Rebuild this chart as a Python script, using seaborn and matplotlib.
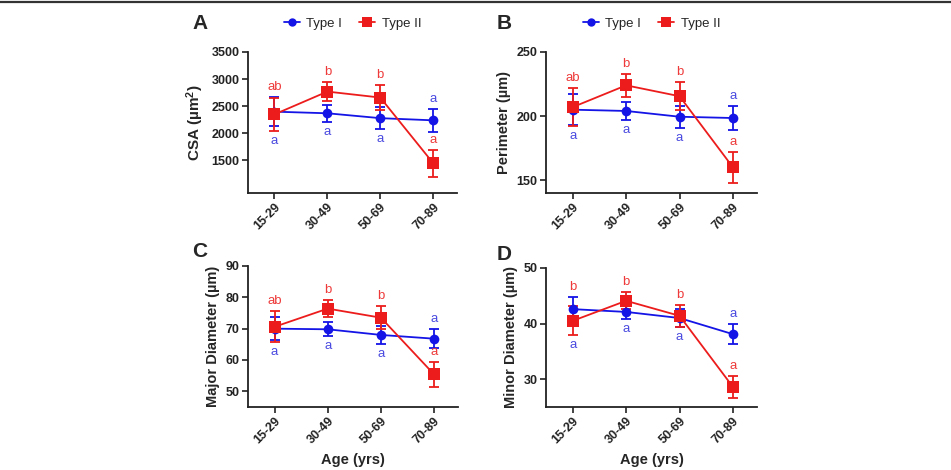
import numpy as np
import pandas as pd
import seaborn as sns
import matplotlib.pyplot as plt
from matplotlib.lines import Line2D

# Age groups and group labels
ages = ['15-29', '30-49', '50-69', '70-89']
types = ['Type I', 'Type II']

# Panel A - CSA (um^2), mean and error
csa_I = [2400, 2370, 2280, 2240]
csa_I_err = [270, 155, 200, 210]
csa_II = [2350, 2770, 2660, 1450]
csa_II_err = [300, 180, 235, 250]

# Panel B - Perimeter (um)
per_I = [205, 204, 199.5, 198.5]
per_I_err = [12, 7, 8.5, 9.5]
per_II = [207, 224, 215.5, 160]
per_II_err = [15, 9, 11, 12]

# Panel C - Major diameter (um)
maj_I = [70.0, 69.8, 68.0, 66.8]
maj_I_err = [3.7, 2.2, 2.8, 3.0]
maj_II = [70.6, 76.4, 73.5, 55.4]
maj_II_err = [4.9, 2.8, 3.7, 3.9]

# Panel D - Minor diameter (um)
min_I = [42.6, 42.1, 41.0, 38.1]
min_I_err = [2.2, 1.3, 1.6, 1.8]
min_II = [40.5, 44.1, 41.4, 28.6]
min_II_err = [2.6, 1.5, 2.0, 2.0]

# significance letters and which side of the point they sit on
letters_I = ['a', 'a', 'a', 'a']
side_I = ['below', 'below', 'below', 'above']
letters_II_ABC = ['ab', 'b', 'b', 'a']
letters_II_D = ['b', 'b', 'b', 'a']
side_II = ['above', 'above', 'above', 'above']

sns.set_theme(style='ticks')
plt.rcParams['font.family'] = ['Liberation Sans', 'DejaVu Sans']
plt.rcParams['mathtext.default'] = 'regular'

blue = '#1414E6'
red = '#EC1C1C'
blue_txt = '#4A4AE0'
red_txt = '#EE3A3A'

fig = plt.figure(figsize=(9.51, 4.70), dpi=100)

# axes boxes in pixels: left, right, top, bottom
boxes = {
    'A': (248, 457, 52, 193),
    'B': (546, 757, 52, 193),
    'C': (248, 458, 266, 407),
    'D': (546, 757, 268, 407),
}

panels = [
    ('A', csa_I, csa_I_err, csa_II, csa_II_err, 'CSA (µm$^{2}$)', (900, 3500), [1500, 2000, 2500, 3000, 3500], letters_II_ABC),
    ('B', per_I, per_I_err, per_II, per_II_err, 'Perimeter (µm)', (140, 250), [150, 200, 250], letters_II_ABC),
    ('C', maj_I, maj_I_err, maj_II, maj_II_err, 'Major Diameter (µm)', (45, 90), [50, 60, 70, 80, 90], letters_II_ABC),
    ('D', min_I, min_I_err, min_II, min_II_err, 'Minor Diameter (µm)', (25, 50), [30, 40, 50], letters_II_D),
]

W, H = 951, 470
for name, m1, e1, m2, e2, ylab, ylim, yticks, let2 in panels:
    l, r, t, b = boxes[name]
    ax = fig.add_axes([l / W, 1 - b / H, (r - l) / W, (b - t) / H])

    df = pd.DataFrame({
        'age': ages * 2,
        'value': m1 + m2,
        'type': [types[0]] * 4 + [types[1]] * 4,
    })
    x = np.arange(len(ages))

    ax.errorbar(x, m1, yerr=e1, fmt='none', ecolor=blue, elinewidth=1.3, capsize=3.6, capthick=1.3, zorder=2)
    ax.errorbar(x, m2, yerr=e2, fmt='none', ecolor=red, elinewidth=1.3, capsize=3.6, capthick=1.3, zorder=2)
    sns.lineplot(data=df, x='age', y='value', hue='type', style='type',
                 palette={types[0]: blue, types[1]: red},
                 markers={types[0]: 'o', types[1]: 's'}, dashes=False,
                 markersize=7, markeredgewidth=0, linewidth=1.3,
                 errorbar=None, legend=False, ax=ax, zorder=3)
    ax.lines[-1].set_markersize(8)

    # significance letters
    for j in range(len(ages)):
        up1, lo1 = m1[j] + e1[j], m1[j] - e1[j]
        up2, lo2 = m2[j] + e2[j], m2[j] - e2[j]
        same = side_I[j] == side_II[j]
        for txt, side, up, lo, col in [
            (letters_I[j], side_I[j], up1, lo1, blue_txt),
            (let2[j], side_II[j], up2, lo2, red_txt),
        ]:
            if side == 'above':
                y = up if same else max(up1, up2)
                ax.annotate(txt, (j, y), xytext=(0, 4), textcoords='offset pixels',
                            ha='center', va='bottom', color=col, fontsize=9.5)
            else:
                y = lo if same else min(lo1, lo2)
                ax.annotate(txt, (j, y), xytext=(0, -4), textcoords='offset pixels',
                            ha='center', va='top', color=col, fontsize=9.5)

    ax.set_xlim(-0.5, 3.45)
    ax.set_ylim(*ylim)
    ax.set_yticks(yticks)
    ax.set_xticks(x)
    ax.set_xticklabels(ages, rotation=45, ha='right', rotation_mode='anchor',
                       fontsize=9, fontweight='bold')
    for lab in ax.get_yticklabels():
        lab.set_fontweight('bold')
        lab.set_fontsize(9)
    ax.set_ylabel(ylab, fontsize=11 if name == 'A' else 10.5, fontweight='bold', labelpad=4)
    if name in ('C', 'D'):
        ax.set_xlabel('Age (yrs)', fontsize=10.5, fontweight='bold', labelpad=5)
    else:
        ax.set_xlabel('')
    sns.despine(ax=ax)
    for s in ('left', 'bottom'):
        ax.spines[s].set_linewidth(1.3)
        ax.spines[s].set_color('#222222')
    ax.tick_params(direction='out', length=4, width=1.2, colors='#222222', pad=2)

    ax.text(-0.23 if name in ('A', 'C') else -0.2, 1.2 if name in ('A', 'B') else 1.1,
            name, transform=ax.transAxes, fontsize=15, fontweight='bold',
            ha='center', va='center')

    if name in ('A', 'B'):
        handles = [
            Line2D([], [], color=blue, marker='o', markersize=6, markeredgewidth=0, linewidth=1.3),
            Line2D([], [], color=red, marker='s', markersize=7, markeredgewidth=0, linewidth=1.3),
        ]
        ax.legend(handles, types, loc='center', bbox_to_anchor=(0.5, 1.2), ncol=2,
                  frameon=False, fontsize=9.5, handlelength=1.2, handletextpad=0.5,
                  columnspacing=1.3, borderaxespad=0)

# top rule of the figure frame
fig.add_artist(Line2D([0, 1], [1 - 2 / H, 1 - 2 / H], color='#333333', linewidth=1.6))

fig.savefig('out.png', dpi=100)
